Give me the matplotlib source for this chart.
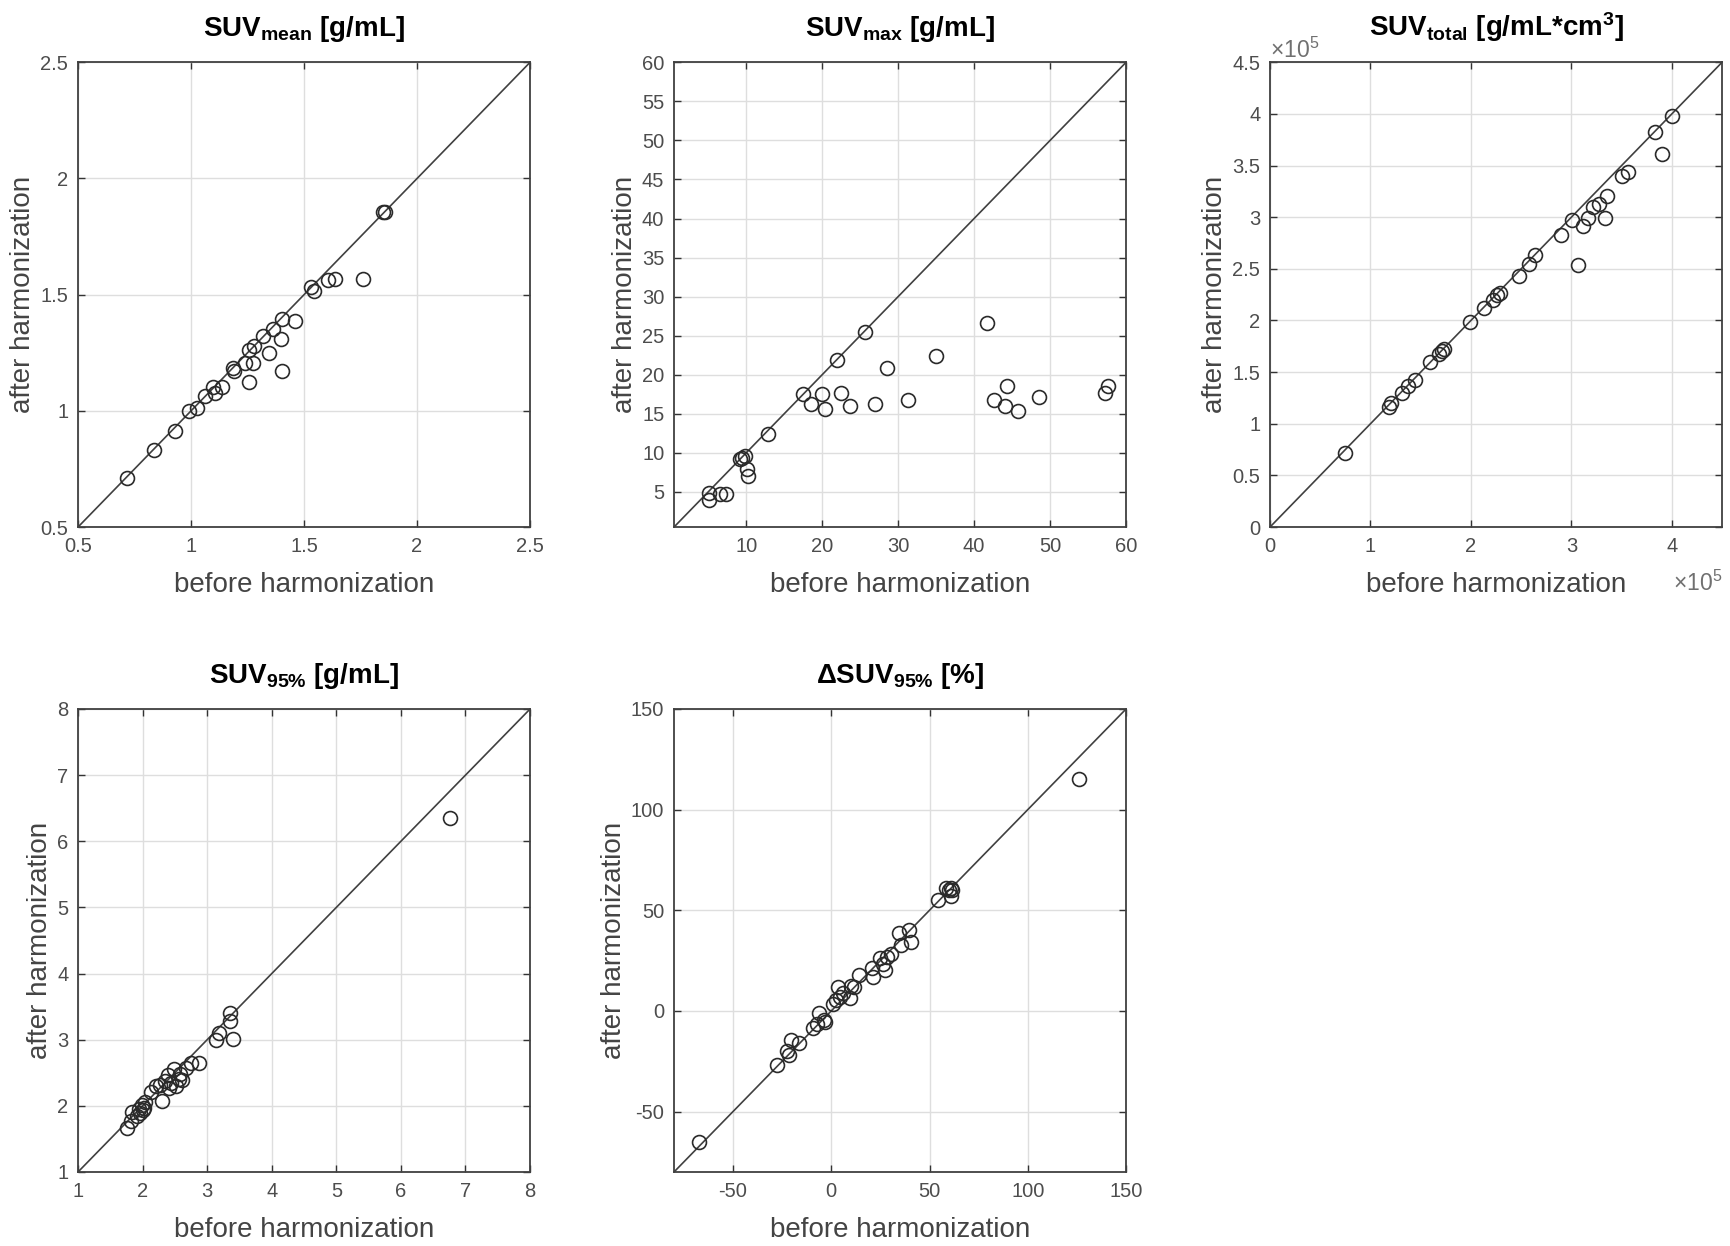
import matplotlib
matplotlib.use("Agg")
import matplotlib.pyplot as plt
from matplotlib.ticker import FuncFormatter

plt.rcParams['font.family'] = ['Liberation Sans', 'DejaVu Sans']
plt.rcParams['mathtext.fontset'] = 'custom'
plt.rcParams['mathtext.rm'] = 'Liberation Sans'
plt.rcParams['mathtext.bf'] = 'Liberation Sans:bold'
plt.rcParams['mathtext.it'] = 'Liberation Sans:italic'

# SUV mean [g/mL]
mean_before = [0.716, 0.835, 0.927, 0.989, 1.027, 1.06, 1.097, 1.104, 1.138, 1.186,
               1.192, 1.24, 1.258, 1.258, 1.274, 1.277, 1.318, 1.346, 1.362, 1.403,
               1.398, 1.403, 1.46, 1.531, 1.543, 1.608, 1.637, 1.76, 1.849, 1.858]
mean_after = [0.713, 0.833, 0.915, 0.998, 1.011, 1.063, 1.104, 1.075, 1.104, 1.186,
              1.173, 1.208, 1.126, 1.26, 1.206, 1.277, 1.321, 1.249, 1.351, 1.397,
              1.31, 1.17, 1.387, 1.534, 1.515, 1.564, 1.567, 1.567, 1.855, 1.855]

# SUV max [g/mL]
max_before = [5.14, 5.14, 6.5, 7.33, 9.17, 9.51, 9.8, 10.15, 10.3, 12.9,
              17.5, 18.5, 20.0, 20.35, 22.0, 22.45, 23.6, 25.6, 27.0, 28.6,
              31.25, 34.95, 41.76, 42.6, 44.05, 44.3, 45.75, 48.57, 57.2, 57.57]
max_after = [4.9, 4.02, 4.76, 4.76, 9.25, 9.35, 9.65, 7.93, 7.05, 12.4,
             17.5, 16.25, 17.5, 15.6, 21.9, 17.7, 16.0, 25.5, 16.3, 20.8,
             16.8, 22.45, 26.66, 16.8, 16.0, 18.55, 15.3, 17.2, 17.6, 18.55]

# SUV total [g/mL*cm3]
total_before = [0.742e5, 1.187e5, 1.201e5, 1.313e5, 1.375e5, 1.44e5, 1.592e5, 1.686e5,
                1.708e5, 1.729e5, 1.99e5, 2.135e5, 2.218e5, 2.261e5, 2.287e5, 2.478e5,
                2.576e5, 2.641e5, 2.894e5, 3.01e5, 3.064e5, 3.119e5, 3.169e5, 3.22e5,
                3.274e5, 3.336e5, 3.357e5, 3.509e5, 3.564e5, 3.835e5, 3.907e5, 3.998e5]
total_after = [0.719e5, 1.162e5, 1.206e5, 1.302e5, 1.365e5, 1.428e5, 1.594e5, 1.678e5,
               1.704e5, 1.726e5, 1.981e5, 2.121e5, 2.195e5, 2.25e5, 2.268e5, 2.434e5,
               2.545e5, 2.637e5, 2.829e5, 2.969e5, 2.538e5, 2.914e5, 2.995e5, 3.098e5,
               3.128e5, 2.988e5, 3.209e5, 3.401e5, 3.442e5, 3.829e5, 3.615e5, 3.984e5]

# SUV 95% [g/mL]
p95_before = [6.756, 1.756, 1.813, 1.842, 1.91, 1.945, 1.956, 1.985, 2.002, 2.025,
              2.042, 2.128, 2.214, 2.271, 2.3, 2.346, 2.386, 2.415, 2.443, 2.483,
              2.518, 2.558, 2.586, 2.615, 2.672, 2.747, 2.873, 3.131, 3.188, 3.36,
              3.36, 3.4]
p95_after = [6.358, 1.664, 1.769, 1.914, 1.839, 1.955, 1.885, 2.013, 1.932, 1.973,
             2.06, 2.206, 2.293, 2.322, 2.077, 2.38, 2.468, 2.264, 2.351, 2.555,
             2.293, 2.409, 2.485, 2.392, 2.573, 2.654, 2.654, 2.992, 3.108, 3.4,
             3.283, 3.009]

# delta SUV 95% [%]
d95_before = [-67.4, -27.4, -22.6, -21.3, -20.4, -16.6, -9.1, -7.5, -6.0, -3.8,
              -3.4, 0.9, 2.3, 3.2, 4.3, 6.0, 9.4, 9.8, 11.7, 14.2,
              20.8, 21.1, 24.9, 26.4, 27.4, 28.3, 30.2, 34.3, 35.5, 39.6,
              40.6, 54.2, 58.5, 59.8, 60.9, 61.3, 60.9, 126.0]
d95_after = [-64.9, -27.1, -19.8, -21.7, -14.4, -15.9, -8.3, -6.3, -1.0, -4.4,
             -5.4, 3.6, 5.2, 11.9, 6.7, 9.0, 6.5, 12.3, 11.9, 18.0,
             21.5, 16.7, 26.3, 23.4, 20.5, 26.9, 28.2, 38.8, 33.0, 40.3,
             34.0, 55.1, 61.2, 59.9, 57.0, 60.3, 61.2, 115.0]

w, h1, h2 = 0.2613, 0.373, 0.3716
panels = [
    (r'SUV$_{\mathbf{mean}}$ [g/mL]', mean_before, mean_after, (0.5, 2.5),
     [0.5, 1, 1.5, 2, 2.5], [0.5, 1, 1.5, 2, 2.5], [0.0451, 0.577, w, h1]),
    (r'SUV$_{\mathbf{max}}$ [g/mL]', max_before, max_after, (0.5, 60),
     list(range(10, 61, 10)), list(range(5, 61, 5)), [0.3896, 0.577, w, h1]),
    (r'SUV$_{\mathbf{total}}$ [g/mL*cm$^{\mathbf{3}}$]', total_before, total_after, (0, 4.5e5),
     [0, 1e5, 2e5, 3e5, 4e5], [0, 0.5e5, 1e5, 1.5e5, 2e5, 2.5e5, 3e5, 3.5e5, 4e5, 4.5e5],
     [0.7341, 0.577, w, h1]),
    (r'SUV$_{\mathbf{95\%}}$ [g/mL]', p95_before, p95_after, (1, 8),
     list(range(1, 9)), list(range(1, 9)), [0.0451, 0.0594, w, h2]),
    (r'ΔSUV$_{\mathbf{95\%}}$ [%]', d95_before, d95_after, (-80, 150),
     [-50, 0, 50, 100, 150], [-50, 0, 50, 100, 150], [0.3896, 0.0594, w, h2]),
]

fig = plt.figure(figsize=(17.3, 12.46), dpi=100)

for i, (title, xb, ya, lim, xt, yt, pos) in enumerate(panels):
    ax = fig.add_axes(pos)
    ax.plot(lim, lim, color='#404040', lw=1.2, zorder=2)
    ax.plot(xb, ya, 'o', mfc='none', mec='#2a2a2a', ms=10, mew=1.2, zorder=3)
    ax.set_xlim(lim)
    ax.set_ylim(lim)
    ax.set_xticks(xt)
    ax.set_yticks(yt)
    if i == 2:
        fmt = FuncFormatter(lambda v, p: '%g' % (v / 1e5))
        ax.xaxis.set_major_formatter(fmt)
        ax.yaxis.set_major_formatter(fmt)
        ax.text(0.0, 1.026, r'$\times$10$^5$', transform=ax.transAxes, fontsize=16.5,
                color='#707070', ha='left', va='center')
        ax.text(1.0, -0.12, r'$\times$10$^5$', transform=ax.transAxes, fontsize=16.5,
                color='#707070', ha='right', va='center')
    else:
        ax.xaxis.set_major_formatter(FuncFormatter(lambda v, p: '%g' % v))
        ax.yaxis.set_major_formatter(FuncFormatter(lambda v, p: '%g' % v))
    ax.grid(True, color='#dedede', lw=1.0)
    ax.set_axisbelow(True)
    ax.tick_params(direction='in', top=True, right=True, length=5, width=1,
                   labelsize=14.5, colors='#333333', labelcolor='#4d4d4d', pad=7)
    for s in ax.spines.values():
        s.set_color('#404040')
        s.set_linewidth(1.3)
    ax.set_title(title, fontsize=20, fontweight='bold', pad=19)
    ax.set_xlabel('before harmonization', fontsize=20, color='#444444', labelpad=12)
    ax.set_ylabel('after harmonization', fontsize=20, color='#444444', labelpad=3)

fig.savefig('out.png', dpi=100, facecolor='white')
